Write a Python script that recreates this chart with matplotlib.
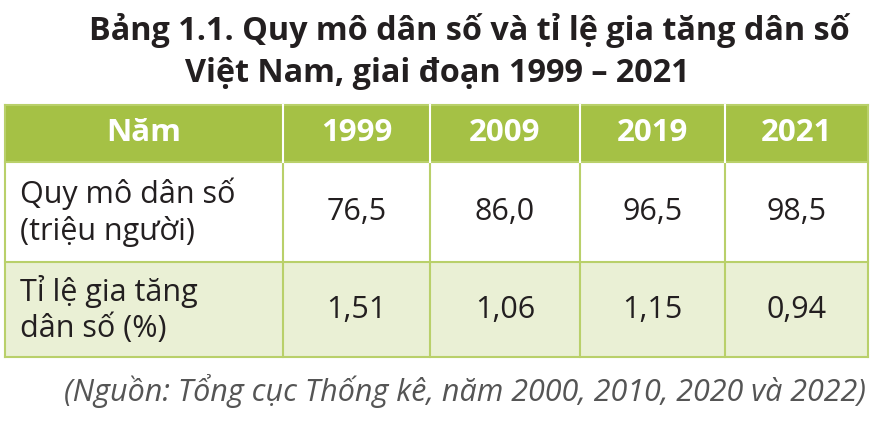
import matplotlib
matplotlib.use("Agg")
import matplotlib.pyplot as plt
from matplotlib.patches import Rectangle

title1 = "Bảng 1.1. Quy mô dân số và tỉ lệ gia tăng dân số"
title2 = "Việt Nam, giai đoạn 1999 – 2021"
header = ["Năm", "1999", "2009", "2019", "2021"]
row_labels = ["Quy mô dân số\n(triệu người)", "Tỉ lệ gia tăng\ndân số (%)"]
population = ["76,5", "86,0", "96,5", "98,5"]
growth = ["1,51", "1,06", "1,15", "0,94"]
source = "(Nguồn: Tổng cục Thống kê, năm 2000, 2010, 2020 và 2022)"

plt.rcParams['font.family'] = ['Open Sans', 'DejaVu Sans']
fig = plt.figure(figsize=(8.76, 4.21), dpi=100)
ax = fig.add_axes([0, 0, 1, 1])
ax.set_xlim(0, 876); ax.set_ylim(421, 0); ax.axis('off')

green = '#a5c145'; light = '#eaf0d5'; line = '#b9d06a'
cols = [5, 283, 430, 580, 725, 868]
rows = [105, 162, 262, 357]
fills = [green, 'white', light]
for r in range(3):
    ax.add_patch(Rectangle((cols[0], rows[r]), cols[-1]-cols[0], rows[r+1]-rows[r],
                           facecolor=fills[r], edgecolor='none'))
for x in cols:
    ax.plot([x, x], [rows[0], rows[-1]], color=line, lw=1.5)
for y in rows:
    ax.plot([cols[0], cols[-1]], [y, y], color=line, lw=1.5)
for x in cols[1:-1]:
    ax.plot([x, x], [rows[0], rows[1]], color='white', lw=1.5)

ax.text(469, 30, title1, ha='center', va='center', fontsize=23.3, fontweight='bold', color='#231f20')
ax.text(437, 74, title2, ha='center', va='center', fontsize=23.3, fontweight='bold', color='#231f20')

for i, h in enumerate(header):
    xc = (cols[i]+cols[i+1])/2
    ax.text(xc if i else 144, 133, h, ha='center', va='center', fontsize=22.5, fontweight='bold', color='white')
for r, vals in enumerate([population, growth]):
    yc = (rows[r+1]+rows[r+2])/2
    ax.text(20, yc, row_labels[r], ha='left', va='center', fontsize=22, color='#231f20', linespacing=1.25)
    for i, v in enumerate(vals):
        ax.text((cols[i+1]+cols[i+2])/2, yc, v, ha='center', va='center', fontsize=22, color='#231f20')

ax.text(866, 391, source, ha='right', va='center', fontsize=22, style='italic', color='#555555')
fig.savefig("out.png", dpi=100)
